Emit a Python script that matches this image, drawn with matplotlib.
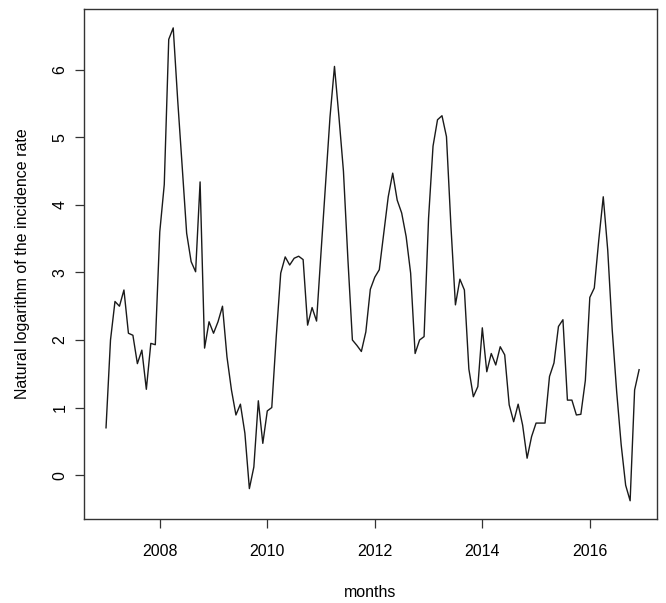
import numpy as np
import matplotlib
matplotlib.use("Agg")
import matplotlib.pyplot as plt

# monthly log incidence, Jan 2007 .. Dec 2016
start_year = 2007
log_rate = [
	0.70, 2.00, 2.57, 2.50, 2.74, 2.10, 2.07, 1.65, 1.85, 1.27, 1.95, 1.93,
	3.60, 4.30, 6.45, 6.62, 5.55, 4.57, 3.58, 3.16, 3.01, 4.34, 1.88, 2.27,
	2.10, 2.27, 2.50, 1.75, 1.26, 0.89, 1.05, 0.62, -0.20, 0.12, 1.10, 0.47,
	0.95, 1.00, 2.05, 2.99, 3.23, 3.11, 3.21, 3.24, 3.19, 2.22, 2.48, 2.28,
	3.30, 4.30, 5.30, 6.05, 5.30, 4.50, 3.19, 2.00, 1.92, 1.83, 2.12, 2.75,
	2.93, 3.04, 3.58, 4.12, 4.47, 4.07, 3.88, 3.53, 2.99, 1.80, 2.00, 2.05,
	3.80, 4.87, 5.26, 5.32, 5.01, 3.68, 2.52, 2.90, 2.74, 1.57, 1.16, 1.31,
	2.18, 1.53, 1.80, 1.63, 1.90, 1.78, 1.04, 0.79, 1.05, 0.74, 0.25, 0.57,
	0.77, 0.77, 0.77, 1.46, 1.66, 2.20, 2.30, 1.11, 1.11, 0.89, 0.90, 1.40,
	2.63, 2.77, 3.48, 4.12, 3.33, 2.15, 1.23, 0.45, -0.15, -0.38, 1.26, 1.56,
]
x_ticks = [2008, 2010, 2012, 2014, 2016]
y_ticks = [0, 1, 2, 3, 4, 5, 6]

plt.rcParams['font.family'] = ['Liberation Sans', 'DejaVu Sans']

t = start_year + np.arange(len(log_rate)) / 12.0

fig = plt.figure(figsize=(6.66, 6.03), dpi=100)
ax = fig.add_axes([0.1261, 0.1393, 0.8604, 0.8458])
ax.plot(t, log_rate, color="#1a1a1a", lw=1.0)

ax.set_xlim(2006.59, 2017.25)
ax.set_ylim(-0.65, 6.90)
ax.set_xticks(x_ticks)
ax.set_xticklabels([str(v) for v in x_ticks])
ax.set_yticks(y_ticks)
ax.set_yticklabels([str(v) for v in y_ticks], rotation=90, va="center")
ax.tick_params(direction="out", length=6.8, width=0.9, color="#333333",
	labelsize=11.5)
ax.tick_params(axis="x", pad=11)
ax.tick_params(axis="y", pad=5)
for s in ax.spines.values():
	s.set_linewidth(1.0)
	s.set_color("#333333")

ax.set_xlabel("months", fontsize=11.5, labelpad=19)
ax.set_ylabel("Natural logarithm of the incidence rate", fontsize=11.5, labelpad=16)

fig.savefig("out.png", dpi=100)
